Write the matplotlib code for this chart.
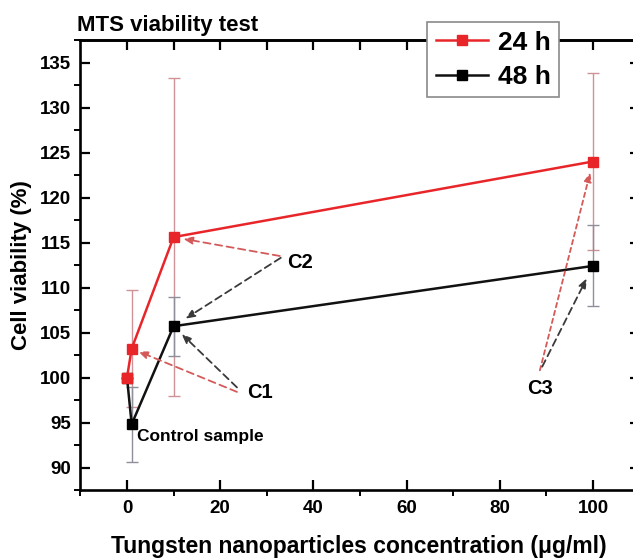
import matplotlib
matplotlib.use("Agg")
import matplotlib.pyplot as plt
from matplotlib.ticker import MultipleLocator
from matplotlib.lines import Line2D

# ---- data ----
conc = [0, 1, 10, 100]
viab_24h = [100.0, 103.2, 115.6, 124.0]
err_24h = [0.0, 6.5, 17.7, 9.8]
viab_48h = [100.0, 94.8, 105.7, 112.4]
err_48h = [0.0, 4.2, 3.3, 4.5]

title = "MTS viability test"
xlabel = "Tungsten nanoparticles concentration (\u03bcg/ml)"
ylabel = "Cell viability (%)"
series_labels = ["24 h", "48 h"]
xticks = [0, 20, 40, 60, 80, 100]
yticks = [90, 95, 100, 105, 110, 115, 120, 125, 130, 135]

plt.rcParams['font.family'] = ['Liberation Sans', 'DejaVu Sans']
plt.rcParams['font.weight'] = 'bold'

W, H = 633, 559
fig = plt.figure(figsize=(W / 100, H / 100), dpi=100)
ax_l, ax_r, ax_t, ax_b = 80.4, 639.6, 40, 490
ax = fig.add_axes([ax_l / W, 1 - ax_b / H, (ax_r - ax_l) / W, (ax_b - ax_t) / H])
ax.set_xlim(-10, 110)
ax.set_ylim(87.5, 137.5)

RED = '#e8262a'
RED_ERR = '#cf9297'
BLK = '#111111'
BLK_ERR = '#8f8f9c'

# error bars (behind)
ax.errorbar(conc, viab_24h, yerr=err_24h, fmt='none', ecolor=RED_ERR,
            elinewidth=1.0, capsize=4, capthick=1.0, zorder=2)
ax.errorbar(conc, viab_48h, yerr=err_48h, fmt='none', ecolor=BLK_ERR,
            elinewidth=1.0, capsize=4, capthick=1.0, zorder=2)

# lines
ax.plot(conc, viab_48h, color=BLK, lw=1.8, marker='s', ms=6.5,
        mfc='black', mec='black', zorder=3)
ax.plot(conc, viab_24h, color=RED, lw=1.8, marker='s', ms=6.5,
        mfc=RED, mec=RED, zorder=4)

# ticks
ax.xaxis.set_minor_locator(MultipleLocator(10))
ax.yaxis.set_minor_locator(MultipleLocator(2.5))
ax.set_xticks(xticks)
ax.set_yticks(yticks)
ax.tick_params(which='major', direction='in', length=7, width=1.6,
               labelsize=13.5, pad=7, top=False, right=False)
ax.tick_params(which='minor', direction='out', length=4, width=1.4,
               top=False, right=False)
for s in ax.spines.values():
    s.set_linewidth(1.9)

sec_x = ax.secondary_xaxis('top')
sec_x.set_xticks(list(range(0, 101, 10)))
sec_x.tick_params(direction='in', length=7, width=1.6, labeltop=False)
sec_x.spines['top'].set_linewidth(1.9)
sec_y = ax.secondary_yaxis('right')
sec_y.set_yticks(yticks)
sec_y.tick_params(direction='in', length=7, width=1.6, labelright=False)

ax.set_xlabel(xlabel, fontsize=16.5, fontweight='bold')
ax.xaxis.set_label_coords(0.497, -0.10)
ax.xaxis.label.set_va('top')
ax.set_ylabel(ylabel, fontsize=16, fontweight='bold')
ax.yaxis.set_label_coords(-0.087, 0.5)

fig.text(77 / W, 1 - 31 / H, title, fontsize=16, fontweight='bold',
         ha='left', va='baseline')

# legend
handles = [Line2D([], [], color=RED, lw=1.8, marker='s', ms=6.5, mfc=RED, mec=RED),
           Line2D([], [], color=BLK, lw=1.8, marker='s', ms=6.5, mfc='black', mec='black')]
leg = ax.legend(handles, series_labels, loc='upper left',
                bbox_to_anchor=(427 / W, 1 - 22 / H), bbox_transform=fig.transFigure,
                borderaxespad=0, fontsize=19, frameon=True, fancybox=False,
                edgecolor='#8a8a8a', framealpha=1, handlelength=2.0,
                handletextpad=0.35, borderpad=0.33, labelspacing=0.38)
leg.get_frame().set_linewidth(1.2)
for t in leg.get_texts():
    t.set_fontweight('bold')
leg.set_zorder(10)

# annotations
ARR_RED = '#d45a5a'
ARR_BLK = '#3a3a3a'


def arrow(tail, target, color, shrink, dash=(0, (4, 2.5))):
    ax.annotate('', xy=target, xytext=tail,
                arrowprops=dict(arrowstyle='-|>,head_length=0.55,head_width=0.22',
                                color=color, lw=1.3, ls=dash,
                                shrinkA=0, shrinkB=shrink), zorder=5)


# C2
ax.text(37.1, 112.8, 'C2', fontsize=14.5, fontweight='bold', ha='center', va='center')
arrow((32.8, 113.5), (conc[2], viab_24h[2]), ARR_RED, 7)
arrow((33.0, 113.3), (conc[2], viab_48h[2]), ARR_BLK, 10)
# C1
ax.text(28.5, 98.3, 'C1', fontsize=14.5, fontweight='bold', ha='center', va='center')
arrow((23.6, 98.4), (conc[1], viab_24h[1]), ARR_RED, 5)
arrow((23.6, 98.9), (conc[2], viab_48h[2]), ARR_BLK, 8)
# C3
ax.text(88.6, 98.8, 'C3', fontsize=14.5, fontweight='bold', ha='center', va='center')
arrow((88.6, 100.8), (conc[3], viab_24h[3]), ARR_RED, 8, dash=(0, (2.5, 2)))
arrow((89.1, 101.2), (conc[3], viab_48h[3]), ARR_BLK, 10)

ax.text(2.2, 93.4, 'Control sample', fontsize=12.5, fontweight='bold',
        ha='left', va='center')

fig.savefig('out.png', dpi=100)
